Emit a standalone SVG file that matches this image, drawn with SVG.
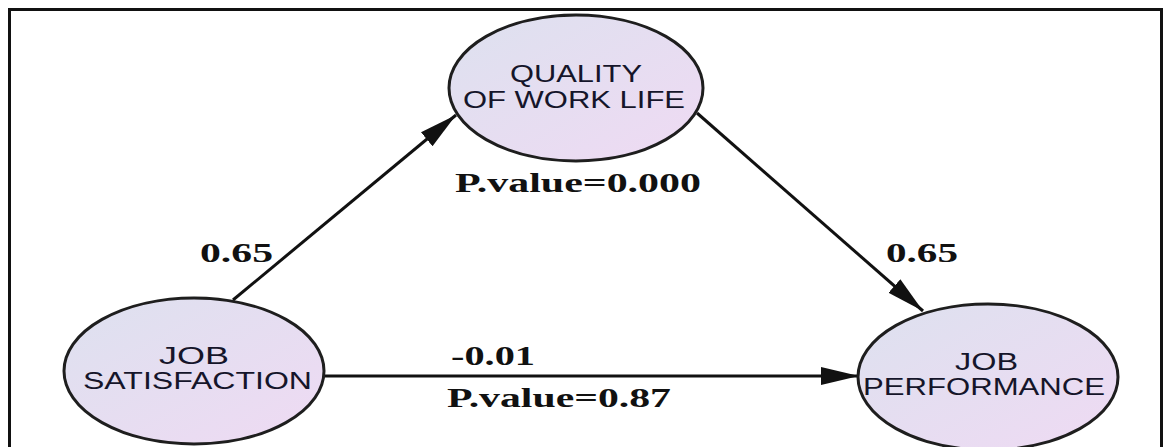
<svg xmlns="http://www.w3.org/2000/svg" width="1169" height="447" viewBox="0 0 1169 447">
  <style>
    .node { stroke: #1e1e1e; stroke-width: 3; fill: url(#nodeFill); }
    .ntext { font-family: "Liberation Sans", Arial, sans-serif; font-size: 24px; fill: #15152a; }
    .elabel { font-family: "Liberation Serif", "Times New Roman", serif; font-weight: bold; font-size: 27px; fill: #111; }
    .edge { stroke: #111; stroke-width: 3; fill: none; marker-end: url(#arrow); }
    .frame { stroke: #111; stroke-width: 3; fill: #fff; }
  </style>
  <defs>
    <linearGradient id="nodeFill" x1="0" y1="0" x2="1" y2="1">
      <stop offset="0" stop-color="#dde1ef"/>
      <stop offset="1" stop-color="#efdaf3"/>
    </linearGradient>
    <marker id="arrow" markerUnits="userSpaceOnUse" markerWidth="40" markerHeight="20" refX="38" refY="10" orient="auto">
      <path d="M0,1 L38,10 L0,19 Z" fill="#111"/>
    </marker>
  </defs>
  <rect x="0" y="0" width="1169" height="447" fill="#fff"/>
  <rect class="frame" x="9.5" y="9.5" width="1152" height="460"/>

  <g id="connectors">
    <line class="edge" x1="233" y1="300" x2="456" y2="115"/>
    <line class="edge" x1="697" y1="113" x2="923" y2="311"/>
    <line class="edge" x1="325" y1="376" x2="859" y2="376"/>
  </g>

  <g id="quality-of-work-life">
    <ellipse class="node" cx="576" cy="88" rx="127" ry="73"/>
    <text class="ntext" x="510" y="82" textLength="132" lengthAdjust="spacingAndGlyphs" font-size="26">QUALITY</text>
    <text class="ntext" x="463" y="108" textLength="222" lengthAdjust="spacingAndGlyphs" font-size="26">OF WORK LIFE</text>
  </g>

  <g id="job-satisfaction">
    <ellipse class="node" cx="194" cy="371" rx="130" ry="73"/>
    <text class="ntext" x="159" y="364" textLength="70" lengthAdjust="spacingAndGlyphs">JOB</text>
    <text class="ntext" x="83" y="389" textLength="229" lengthAdjust="spacingAndGlyphs">SATISFACTION</text>
  </g>

  <g id="job-performance">
    <ellipse class="node" cx="988" cy="377" rx="130" ry="73"/>
    <text class="ntext" x="955" y="370" textLength="63" lengthAdjust="spacingAndGlyphs">JOB</text>
    <text class="ntext" x="863" y="395" textLength="242" lengthAdjust="spacingAndGlyphs">PERFORMANCE</text>
  </g>

  <g id="edge-labels">
    <text class="elabel" x="200" y="262" textLength="73" lengthAdjust="spacingAndGlyphs">0.65</text>
    <text class="elabel" x="886" y="262" textLength="72" lengthAdjust="spacingAndGlyphs">0.65</text>
    <text class="elabel" x="455" y="192" textLength="246" lengthAdjust="spacingAndGlyphs">P.value=0.000</text>
    <text class="elabel" x="451" y="365" textLength="84" lengthAdjust="spacingAndGlyphs">-0.01</text>
    <text class="elabel" x="447" y="407" textLength="224" lengthAdjust="spacingAndGlyphs">P.value=0.87</text>
  </g>
</svg>
